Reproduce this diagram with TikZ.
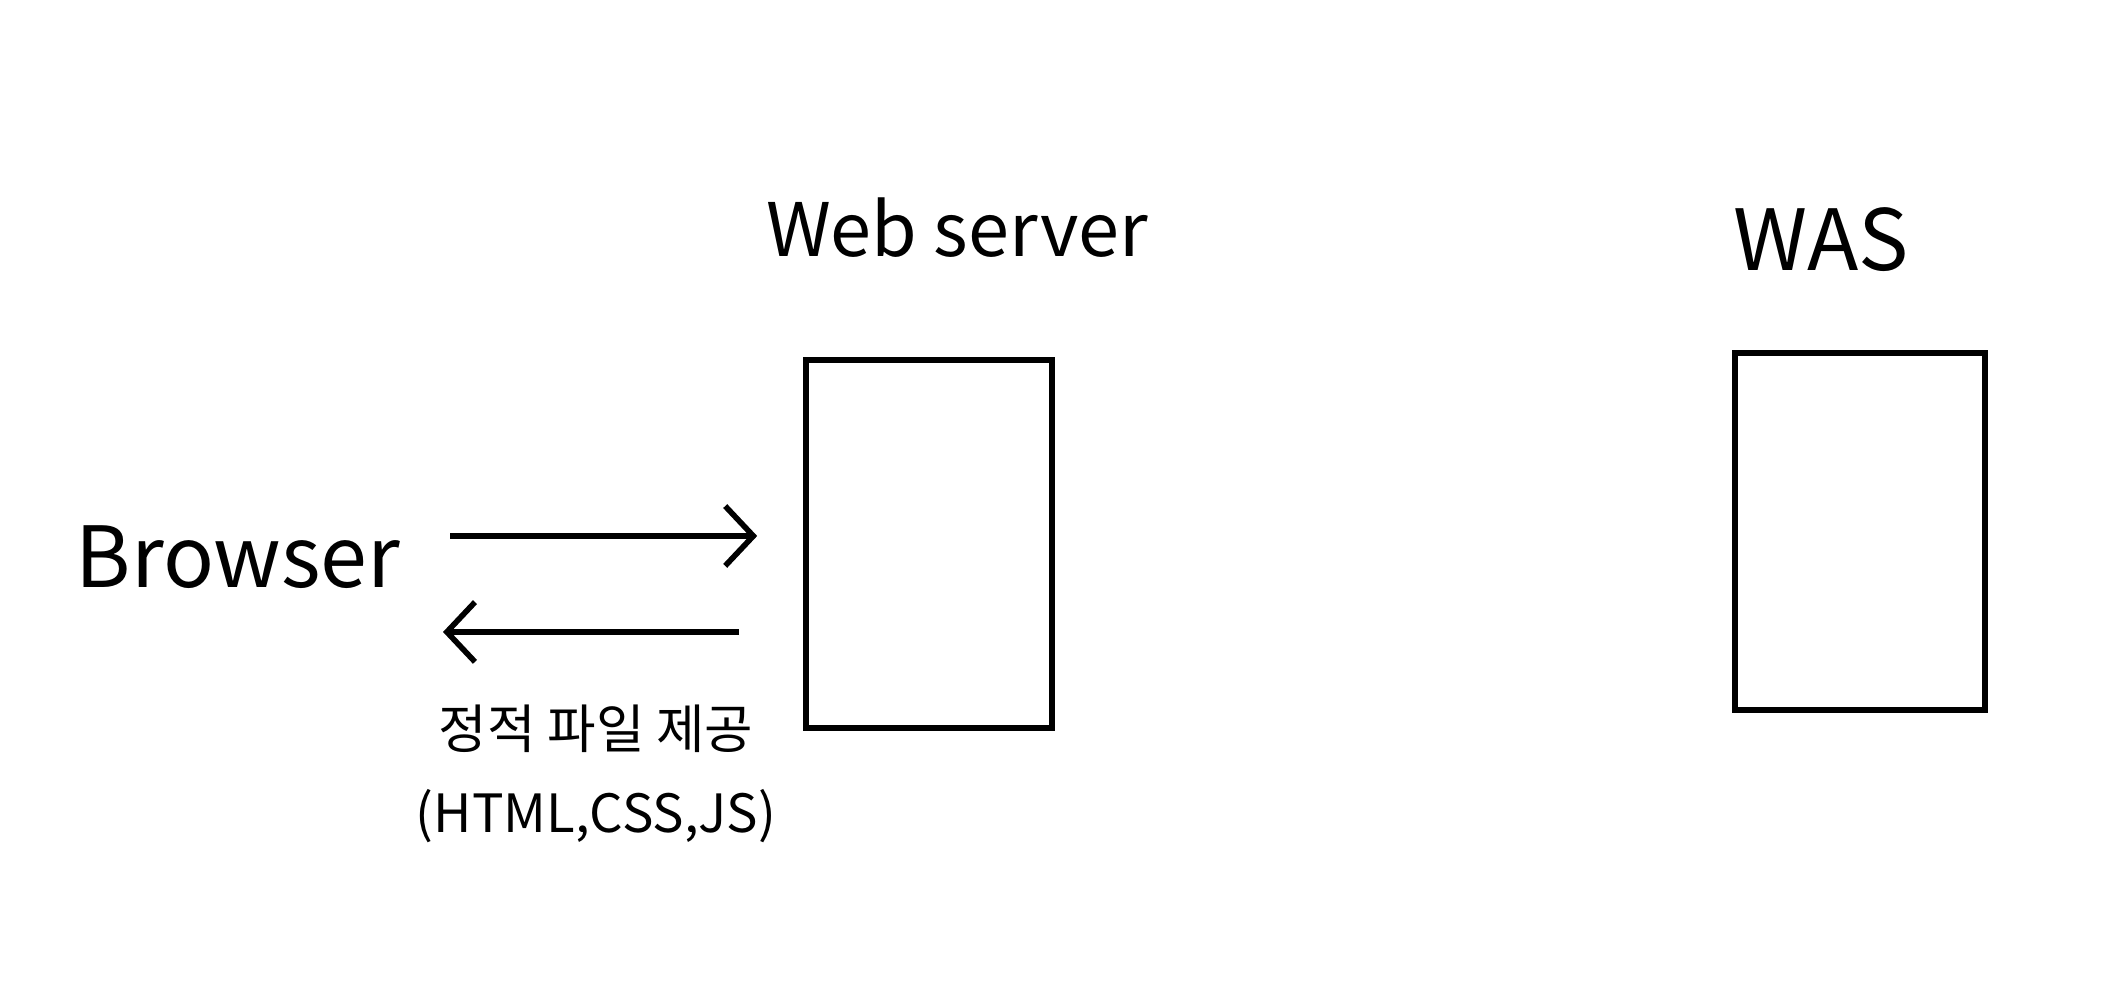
\documentclass[tikz,border=0pt]{standalone}
\usepackage{fontspec}
\setmainfont{Noto Sans CJK KR}
\usetikzlibrary{arrows.meta,positioning,calc}

\begin{document}
\begin{tikzpicture}[
        serverbox/.style={rectangle, draw=black, line width=1.6pt, inner sep=0pt},
        title/.style={font=\fontsize{24}{28}\selectfont, inner sep=0pt},
        arr/.style={-{Straight Barb[length=8pt, width=17pt, line width=1.6pt]}, line width=1.6pt}
      ]
        \useasboundingbox (0,0) rectangle (21.07,10);

        \node[title] (browser) at (2.38,4.43) {Browser};

        \node[serverbox, minimum width=2.46cm, minimum height=3.68cm] (web) at (9.29,4.56) {};
        \node[title, font=\fontsize{21}{25}\selectfont] (weblbl) at (9.57,7.72) {Web server};

        \node[serverbox, minimum width=2.50cm, minimum height=3.57cm] (was) at (18.60,4.685) {};
        \node[title] (waslbl) at (18.21,7.60) {WAS};

        \draw[arr] (4.50,4.64) coordinate (req) -- (req -| web.west) [shorten >=0.46cm];
        \draw[arr, shorten <=0.64cm] (web.west |- 0,3.68) -- (4.43,3.68) coordinate (res);

        \node[font=\fontsize{15}{24}\selectfont, align=center] (static) at (5.96,2.26)
          {정적 파일 제공\\(HTML,CSS,JS)};
      \end{tikzpicture}
\end{document}
